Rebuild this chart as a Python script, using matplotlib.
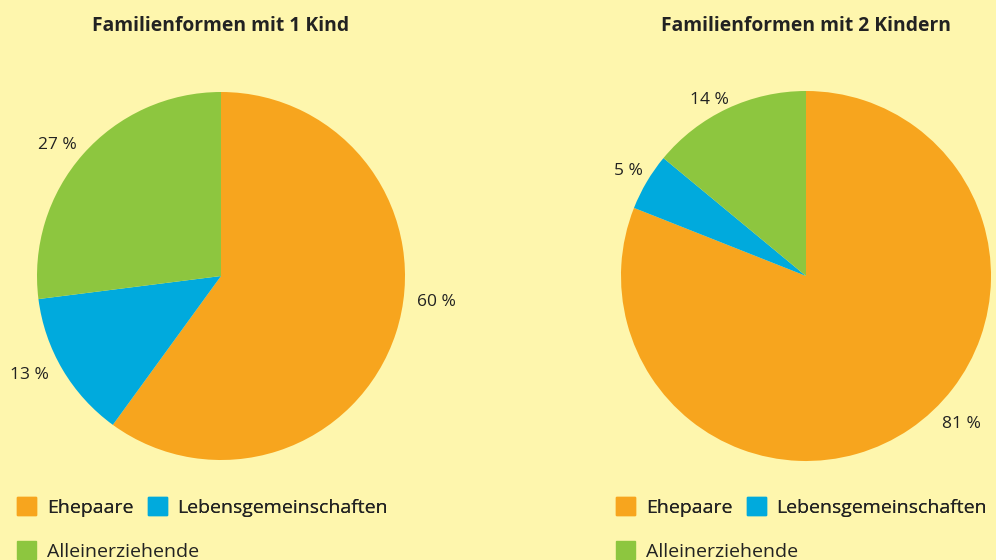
import matplotlib
matplotlib.use("Agg")
import matplotlib.pyplot as plt
from matplotlib.patches import Patch

plt.rcParams['font.family'] = ['Open Sans', 'DejaVu Sans']

# data
categories = ['Ehepaare', 'Lebensgemeinschaften', 'Alleinerziehende']
titles = ['Familienformen mit 1 Kind', 'Familienformen mit 2 Kindern']
shares_1 = [60, 13, 27]
shares_2 = [81, 5, 14]
colors = ['#F7A51E', '#00AADD', '#8DC63F']
bg = '#FEF6AD'

# label offsets (in pie radius units), one per wedge
label_pos_1 = [(1.17, -0.14), (-1.04, -0.54), (-0.89, 0.71)]
label_pos_2 = [(0.84, -0.80), (-0.96, 0.57), (-0.52, 0.95)]

W, H = 996, 560
fig = plt.figure(figsize=(W / 100, H / 100), dpi=100, facecolor=bg)

leg_kw = dict(frameon=False, fontsize=14, handlelength=0.98,
              handleheight=0.98, handletextpad=0.55, columnspacing=0.75,
              borderaxespad=0, borderpad=0, labelcolor='#222222')


def draw_pie(cx, cy, r, values, label_pos, title, legend_x):
    pad = 1.4
    ax = fig.add_axes([(cx - pad * r) / W, (H - cy - pad * r) / H,
                       2 * pad * r / W, 2 * pad * r / H])
    ax.set_facecolor('none')
    ax.pie(values, colors=colors, startangle=90, counterclock=False,
           radius=1, wedgeprops=dict(linewidth=0))
    ax.set_xlim(-pad, pad)
    ax.set_ylim(-pad, pad)
    ax.set_aspect('equal')
    ax.axis('off')
    for v, (x, y) in zip(values, label_pos):
        ax.text(x, y, f'{v} %', ha='center', va='center', fontsize=12.5,
                color='#222222')
    fig.text(cx / W, 1 - 26 / H, title, ha='center', va='center',
             fontsize=13.9, fontweight='bold', color='#222222')
    h = [Patch(color=colors[i], label=categories[i]) for i in range(3)]
    leg1 = fig.legend(handles=h[:2], ncol=2, loc='center left',
                      bbox_to_anchor=(legend_x / W, 1 - 507 / H), **leg_kw)
    fig.add_artist(leg1)
    fig.legend(handles=h[2:], loc='center left',
               bbox_to_anchor=(legend_x / W, 1 - 551 / H), **leg_kw)


draw_pie(221, 276, 184, shares_1, label_pos_1, titles[0], 17)
draw_pie(806, 276, 185, shares_2, label_pos_2, titles[1], 616)

fig.savefig('out.png', dpi=100, facecolor=bg)
